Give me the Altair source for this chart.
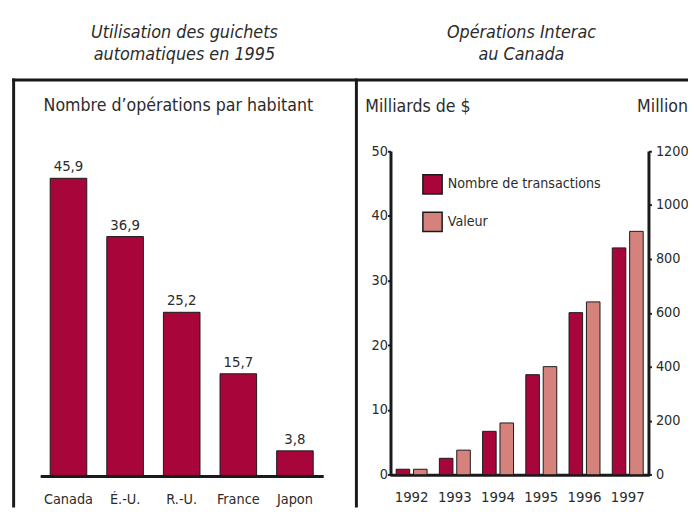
import altair as alt
import pandas as pd

# ---- data ----
pays = ["Canada", "É.-U.", "R.-U.", "France", "Japon"]
operations = [45.9, 36.9, 25.2, 15.7, 3.8]

annees = ["1992", "1993", "1994", "1995", "1996", "1997"]
transactions = [20.5, 61, 161, 371, 601, 841]   # millions
valeur = [0.85, 3.8, 8.0, 16.7, 26.7, 37.6]     # milliards de $
series = ["Nombre de transactions", "Valeur"]

ticks_milliards = [0, 10, 20, 30, 40, 50]
ticks_millions = [0, 200, 400, 600, 800, 1000, 1200]

# ---- styles ----
FONT = "DejaVu Sans Condensed, Liberation Sans Narrow, sans-serif"
DARK = "#A8063A"
LIGHT = "#D5827D"
INK = "#1a1a1a"
TXT = "#2b2b2b"

one = pd.DataFrame({"k": [0]})
df_left = pd.DataFrame({
    "pays": pays,
    "operations": operations,
    "etiquette": [f"{v:.1f}".replace(".", ",") for v in operations],
})
df_tx = pd.DataFrame({"annee": annees, "serie": series[0], "val": transactions})
df_va = pd.DataFrame({"annee": annees, "serie": series[1], "val": valeur})

# ---- frame ----
def rule(**enc):
    return alt.Chart(one).mark_rule(color=INK, strokeWidth=3, strokeCap="square").encode(**enc)

frame_left = rule(x=alt.value(5.7), y=alt.value(70), y2=alt.value(501))
frame_top = rule(x=alt.value(5.7), x2=alt.value(688), y=alt.value(70))
frame_mid = rule(x=alt.value(352.5), y=alt.value(70), y2=alt.value(501))

def label(txt, x, y, size, align="left", italic=False, lh=23):
    return alt.Chart(one).mark_text(
        font=FONT, fontSize=size, fontStyle="italic" if italic else "normal",
        color=TXT, align=align, baseline="middle", lineBreak="\n", lineHeight=lh,
    ).encode(x=alt.value(x), y=alt.value(y), text=alt.value(txt))

hdr_left = label("Utilisation des guichets\nautomatiques en 1995", 178.5, 22, 18, "center", True)
hdr_right = label("Opérations Interac\nau Canada", 519.5, 22, 18, "center", True)
sub_left = label("Nombre d’opérations par habitant", 36, 96.5, 17.8)

# ---- left panel ----
xL_scale = alt.Scale(domain=pays, range=[32.56, 318.94], paddingInner=0.354, paddingOuter=0.177)
yL_scale = alt.Scale(domain=[0, 50], range=[470, 142.5])

bars_left = alt.Chart(df_left).mark_bar(color=DARK, stroke=INK, strokeWidth=1).encode(
    x=alt.X("pays:N", scale=xL_scale, sort=None,
            axis=alt.Axis(orient="bottom", offset=-30.5, title=None, labelAngle=0, ticks=False,
                          domainWidth=3, domainColor=INK, labelFont=FONT, labelFontSize=14.5,
                          labelColor=TXT, labelPadding=17, grid=False)),
    y=alt.Y("operations:Q", scale=yL_scale, axis=None),
)
vals_left = alt.Chart(df_left).mark_text(
    font=FONT, fontSize=15, color=TXT, baseline="alphabetic", dy=-7
).encode(
    x=alt.X("pays:N", scale=xL_scale, sort=None, axis=None),
    y=alt.Y("operations:Q", scale=yL_scale, axis=None),
    text="etiquette:N",
)

# ---- right panel ----
xR_scale = alt.Scale(domain=annees, range=[386.5, 648.9], paddingInner=0.284, paddingOuter=0.142)
xo = alt.XOffset("serie:N", scale=alt.Scale(domain=series, paddingInner=0.22, paddingOuter=0))
color = alt.Color(
    "serie:N",
    scale=alt.Scale(domain=series, range=[DARK, LIGHT]),
    legend=alt.Legend(title=None, orient="none", legendX=419, legendY=165, direction="vertical",
                      symbolType="square", symbolSize=380, symbolStrokeColor=INK,
                      symbolStrokeWidth=1.5, symbolOpacity=1, labelFont=FONT, labelFontSize=14.3,
                      labelColor=TXT, labelOffset=5, labelLimit=400, rowPadding=11, padding=0),
)
axis_common = dict(grid=False, domainWidth=3, domainColor=INK, tickSize=3, tickWidth=2,
                   tickColor=INK, labelFont=FONT, labelFontSize=14.5, labelColor=TXT,
                   titleFont=FONT, titleFontSize=17.8, titleColor=TXT,
                   titleFontWeight="normal", titleAngle=0, titleAlign="left",
                   titleBaseline="middle", titleY=96.5, format="d")

bars_tx = alt.Chart(df_tx).mark_bar(stroke=INK, strokeWidth=1).encode(
    x=alt.X("annee:N", scale=xR_scale, sort=None,
            axis=alt.Axis(orient="bottom", offset=-31.7, title=None, labelAngle=0, ticks=False,
                          domainWidth=3, domainColor=INK, labelFont=FONT, labelFontSize=15,
                          labelColor=TXT, labelPadding=15, grid=False)),
    xOffset=xo,
    y=alt.Y("val:Q", scale=alt.Scale(domain=[0, 1200], range=[469.3, 141.8]),
            axis=alt.Axis(orient="right", offset=-40, values=ticks_millions, title="Millions",
                          titleX=-12, labelPadding=4, **axis_common)),
    color=color,
)
bars_va = alt.Chart(df_va).mark_bar(stroke=INK, strokeWidth=1).encode(
    x=alt.X("annee:N", scale=xR_scale, sort=None, axis=None),
    xOffset=xo,
    y=alt.Y("val:Q", scale=alt.Scale(domain=[0, 50], range=[469.3, 141.8]),
            axis=alt.Axis(orient="left", offset=-387, values=ticks_milliards,
                          title="Milliards de $", titleX=-26, labelPadding=0, **axis_common)),
    color=color,
)

chart = alt.layer(
    frame_left, frame_top, frame_mid, hdr_left, hdr_right, sub_left,
    bars_left, vals_left, bars_tx, bars_va,
).resolve_scale(
    x="independent", y="independent", xOffset="independent", color="shared"
).properties(
    width=688, height=501, padding=0, autosize=alt.AutoSizeParams(type="none")
).configure_view(stroke=None)

chart.save("out.html", embed_options={"renderer": "svg", "actions": False})
